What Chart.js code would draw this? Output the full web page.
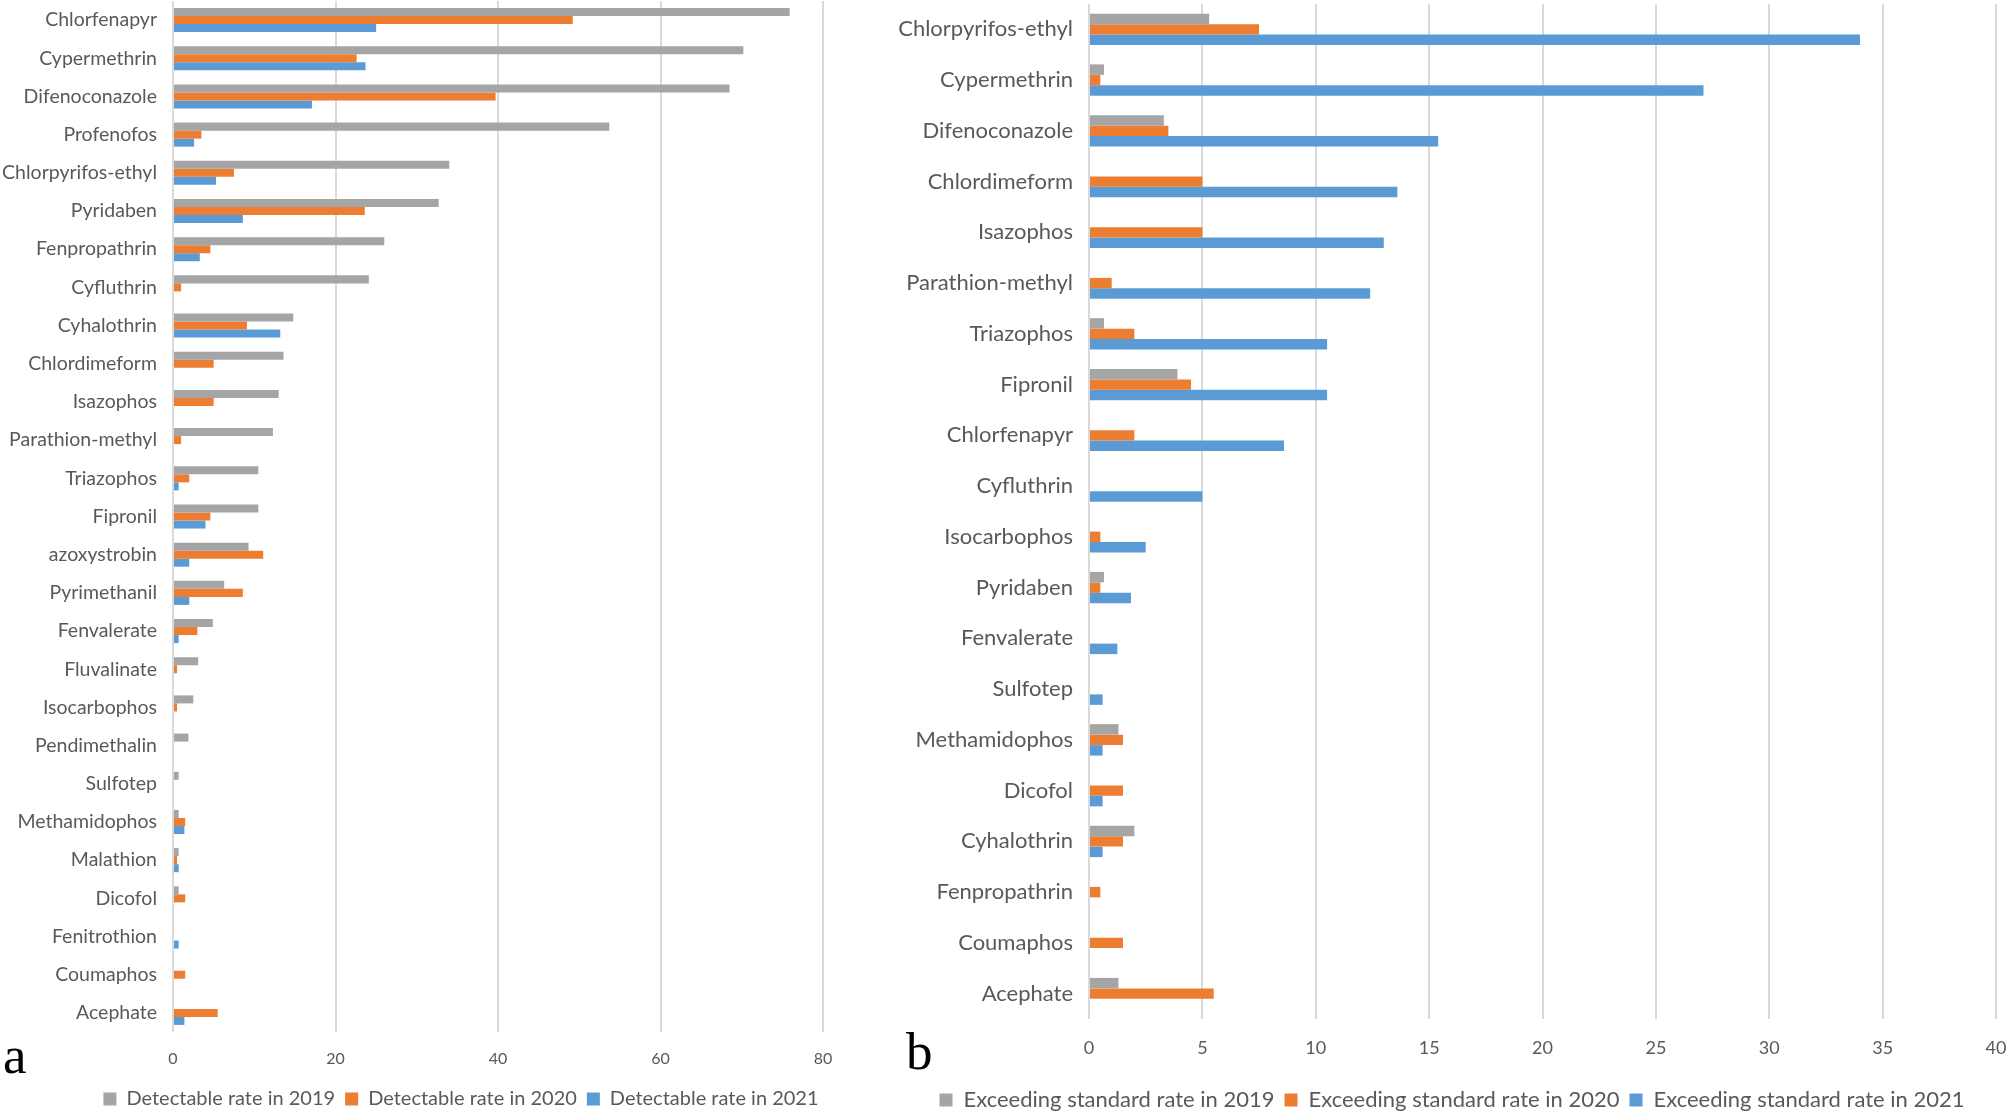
<!DOCTYPE html>
<html lang="en">
<head>
  <meta charset="UTF-8" />
  <title>Pesticide residue rates</title>
  <script src="https://cdn.jsdelivr.net/npm/chart.js"></script>
  <style>
    html, body {
      margin: 0;
      padding: 0;
      background: #fff;
      overflow: hidden;
    }
    .panel {
      position: absolute;
      top: 0;
    }
    #panelA { left: 0; width: 922px; height: 1119px; }
    #panelB { left: 870px; width: 1136px; height: 1121px; }
    .tag {
      position: absolute;
      font-family: 'Liberation Serif', serif;
      font-size: 53px;
      line-height: 1;
      color: #000;
    }
  </style>
</head>
<body>
  <div class="panel" id="panelA"><canvas id="chartA"></canvas></div>
  <div class="panel" id="panelB"><canvas id="chartB"></canvas></div>
  <div class="tag" style="left:3px; top:1029px;">a</div>
  <div class="tag" style="left:906px; top:1025px;">b</div>

  <script>
    // panel a: detectable rate (%)
    const labelsA = ['Chlorfenapyr', 'Cypermethrin', 'Difenoconazole', 'Profenofos', 'Chlorpyrifos-ethyl',
      'Pyridaben', 'Fenpropathrin', 'Cyfluthrin', 'Cyhalothrin', 'Chlordimeform', 'Isazophos',
      'Parathion-methyl', 'Triazophos', 'Fipronil', 'azoxystrobin', 'Pyrimethanil', 'Fenvalerate',
      'Fluvalinate', 'Isocarbophos', 'Pendimethalin', 'Sulfotep', 'Methamidophos', 'Malathion',
      'Dicofol', 'Fenitrothion', 'Coumaphos', 'Acephate'];
    const det2019 = [75.9, 70.2, 68.5, 53.7, 34.0, 32.7, 26.0, 24.1, 14.8, 13.6, 13.0, 12.3, 10.5, 10.5,
      9.3, 6.3, 4.9, 3.1, 2.5, 1.9, 0.7, 0.7, 0.7, 0.7, 0, 0, 0];
    const det2020 = [49.2, 22.6, 39.7, 3.5, 7.5, 23.6, 4.6, 1.0, 9.1, 5.0, 5.0, 1.0, 2.0, 4.6,
      11.1, 8.6, 3.0, 0.5, 0.5, 0, 0, 1.5, 0.5, 1.5, 0, 1.5, 5.5];
    const det2021 = [25.0, 23.7, 17.1, 2.6, 5.3, 8.6, 3.3, 0, 13.2, 0, 0, 0, 0.7, 4.0,
      2.0, 2.0, 0.7, 0, 0, 0, 0, 1.4, 0.7, 0, 0.7, 0, 1.4];
    const ticksA = { max: 80, step: 20 };

    // panel b: exceeding standard rate (%)
    const labelsB = ['Chlorpyrifos-ethyl', 'Cypermethrin', 'Difenoconazole', 'Chlordimeform', 'Isazophos',
      'Parathion-methyl', 'Triazophos', 'Fipronil', 'Chlorfenapyr', 'Cyfluthrin', 'Isocarbophos',
      'Pyridaben', 'Fenvalerate', 'Sulfotep', 'Methamidophos', 'Dicofol', 'Cyhalothrin',
      'Fenpropathrin', 'Coumaphos', 'Acephate'];
    const exc2019 = [5.3, 0.66, 3.3, 0, 0, 0, 0.66, 3.9, 0, 0, 0, 0.66, 0, 0, 1.3, 0, 2.0, 0, 0, 1.3];
    const exc2020 = [7.5, 0.5, 3.5, 5.0, 5.0, 1.0, 2.0, 4.5, 2.0, 0, 0.5, 0.5, 0, 0, 1.5, 1.5, 1.5, 0.5, 1.5, 5.5];
    const exc2021 = [34.0, 27.1, 15.4, 13.6, 13.0, 12.4, 10.5, 10.5, 8.6, 5.0, 2.5, 1.85, 1.25, 0.6, 0.6, 0.6, 0.6, 0, 0, 0];
    const ticksB = { max: 40, step: 5 };

    const GRAY = '#a5a5a5';
    const ORANGE = '#ed7d31';
    const BLUE = '#5b9bd5';
    const TEXT = '#595959';

    Chart.defaults.font.family = 'Lato, sans-serif';
    Chart.defaults.color = TEXT;

    function makeChart(id, labels, series, names, ticks, opt) {
      return new Chart(document.getElementById(id), {
        type: 'bar',
        data: {
          labels: labels,
          datasets: series.map((d, i) => ({
            label: names[i],
            data: d,
            backgroundColor: [GRAY, ORANGE, BLUE][i],
            categoryPercentage: opt.catPct,
            barPercentage: 1
          }))
        },
        options: {
          indexAxis: 'y',
          responsive: true,
          maintainAspectRatio: false,
          animation: false,
          layout: { padding: opt.padding },
          plugins: {
            tooltip: { enabled: false },
            legend: {
              position: 'bottom',
              labels: {
                boxWidth: 13,
                boxHeight: 13,
                padding: 10,
                color: TEXT,
                font: { size: opt.legendSize }
              }
            }
          },
          scales: {
            x: {
              min: 0,
              max: ticks.max,
              ticks: { stepSize: ticks.step, padding: opt.tickPad, font: { size: opt.tickSize }, color: TEXT },
              grid: { color: '#d9d9d9', lineWidth: 2, drawTicks: false },
              border: { display: false },
              afterFit: s => { s.height = opt.xHeight; s.paddingLeft = 0; s.paddingRight = 0; }
            },
            y: {
              ticks: { padding: 16, font: { size: opt.labelSize }, color: TEXT },
              grid: { display: false, drawTicks: false },
              border: { display: false },
              afterFit: s => { s.width = opt.yWidth; s.paddingTop = 0; s.paddingBottom = 0; }
            }
          }
        },
        plugins: [{
          // the legend sits centred under the whole panel, not under the plot area
          id: 'legendCentre',
          afterLayout(chart) {
            const lg = chart.legend;
            lg.left = opt.legendCentre - 800;
            lg.right = opt.legendCentre + 800;
          }
        }]
      });
    }

    makeChart('chartA', labelsA, [det2019, det2020, det2021],
      ['Detectable rate in 2019', 'Detectable rate in 2020', 'Detectable rate in 2021'], ticksA,
      { catPct: 0.63, padding: { top: 1, right: 99, left: 0, bottom: 0 }, legendSize: 20, legendCentre: 461,
        tickSize: 16, tickPad: 17, xHeight: 47, labelSize: 19.5, yWidth: 173 });

    makeChart('chartB', labelsB, [exc2019, exc2020, exc2021],
      ['Exceeding standard rate in 2019', 'Exceeding standard rate in 2020', 'Exceeding standard rate in 2021'], ticksB,
      { catPct: 0.62, padding: { top: 4, right: 10, left: 0, bottom: 0 }, legendSize: 22, legendCentre: 582,
        tickSize: 18, tickPad: 18, xHeight: 60, labelSize: 22, yWidth: 219 });
  </script>
</body>
</html>
